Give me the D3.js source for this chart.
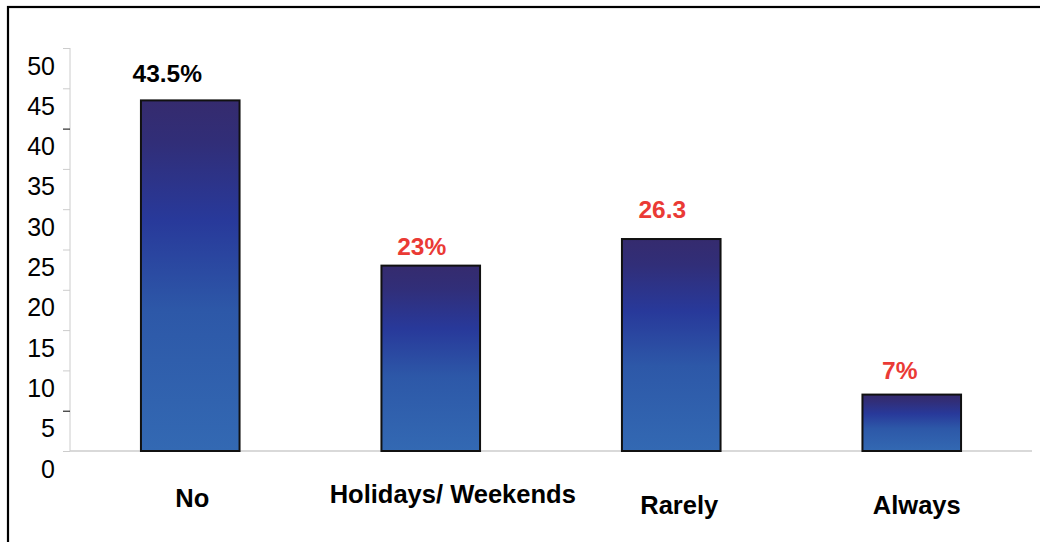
<!DOCTYPE html>
<html>
<head>
<meta charset="utf-8">
<script src="https://cdn.jsdelivr.net/npm/d3@7/dist/d3.min.js"></script>
<style>
  html, body { margin: 0; padding: 0; background: #fff; }
  svg { display: block; font-family: "Liberation Sans", Arial, sans-serif; }
</style>
</head>
<body>
<svg id="chart" width="1040" height="542"></svg>
<script>
// ---- data ----
const categories = ["No", "Holidays/ Weekends", "Rarely", "Always"];
const values = [43.5, 23, 26.3, 7];
const valueLabels = ["43.5%", "23%", "26.3", "7%"];
const yTicks = [0, 5, 10, 15, 20, 25, 30, 35, 40, 45, 50];

// ---- layout (styling only) ----
const W = 1040, H = 542;
const plot = { left: 70, right: 1032, top: 48, bottom: 451 };
const valueNudge = [[-23, -18], [-9, -11], [-9, -21], [-12, -16]];
const catNudge = [[2, 56], [22, 52], [8, 63], [5, 63]];
const valueColors = ["#000000", "#ea3a35", "#ea3a35", "#ea3a35"];
const blackTicks = [5, 40];

const svg = d3.select("#chart");

// gradient
const defs = svg.append("defs");
const grad = defs.append("linearGradient")
  .attr("id", "barGrad").attr("x1", 0).attr("y1", 0).attr("x2", 0).attr("y2", 1);
[[0, "#352b6e"], [0.12, "#312e78"], [0.34, "#28399a"], [0.6, "#2d58a8"], [1, "#3369b3"]]
  .forEach(([o, c]) => grad.append("stop").attr("offset", o).attr("stop-color", c));

// frame
svg.append("rect").attr("x", 8).attr("y", 7).attr("width", 1100).attr("height", 700)
  .attr("fill", "none").attr("stroke", "#000").attr("stroke-width", 2.2);

const x = d3.scaleBand().domain(categories)
  .range([plot.left, plot.right]).paddingInner(0.59).paddingOuter(0.295);
const y = d3.scaleLinear().domain([0, 50]).range([plot.bottom, plot.top]);

// y axis line & ticks
const yAxis = d3.axisLeft(y).tickValues(yTicks).tickSize(7).tickFormat("");
const gy = svg.append("g").attr("transform", `translate(${plot.left},0)`).call(yAxis);
gy.select(".domain").attr("stroke", "#cccccc").attr("d", `M0,${plot.top}V${plot.bottom}`);
gy.selectAll(".tick line")
  .attr("stroke", d => blackTicks.includes(d) ? "#000" : "#cccccc");

// tick labels (offset below tick lines as in the reference)
svg.append("g").selectAll("text").data(yTicks).join("text")
  .attr("x", 55).attr("y", d => y(d) + 26.5)
  .attr("text-anchor", "end").attr("font-size", 25).attr("fill", "#000")
  .text(d => d);

// baseline
svg.append("line").attr("x1", plot.left).attr("x2", plot.right)
  .attr("y1", y(0)).attr("y2", y(0)).attr("stroke", "#cccccc").attr("stroke-width", 1.5);

// bars
svg.append("g").selectAll("rect").data(values).join("rect")
  .attr("x", (d, i) => x(categories[i]))
  .attr("y", d => y(d))
  .attr("width", x.bandwidth())
  .attr("height", d => y(0) - y(d))
  .attr("fill", "url(#barGrad)")
  .attr("stroke", "#111").attr("stroke-width", 2);

// value labels
svg.append("g").selectAll("text").data(values).join("text")
  .attr("x", (d, i) => x(categories[i]) + x.bandwidth() / 2 + valueNudge[i][0])
  .attr("y", (d, i) => y(d) + valueNudge[i][1])
  .attr("text-anchor", "middle").attr("font-size", 24.5).attr("font-weight", "bold")
  .attr("fill", (d, i) => valueColors[i])
  .text((d, i) => valueLabels[i]);

// category labels
svg.append("g").selectAll("text").data(categories).join("text")
  .attr("x", (d, i) => x(d) + x.bandwidth() / 2 + catNudge[i][0])
  .attr("y", (d, i) => y(0) + catNudge[i][1])
  .attr("text-anchor", "middle").attr("font-size", 25.5).attr("font-weight", "bold")
  .attr("fill", "#000")
  .text(d => d);
</script>
</body>
</html>
